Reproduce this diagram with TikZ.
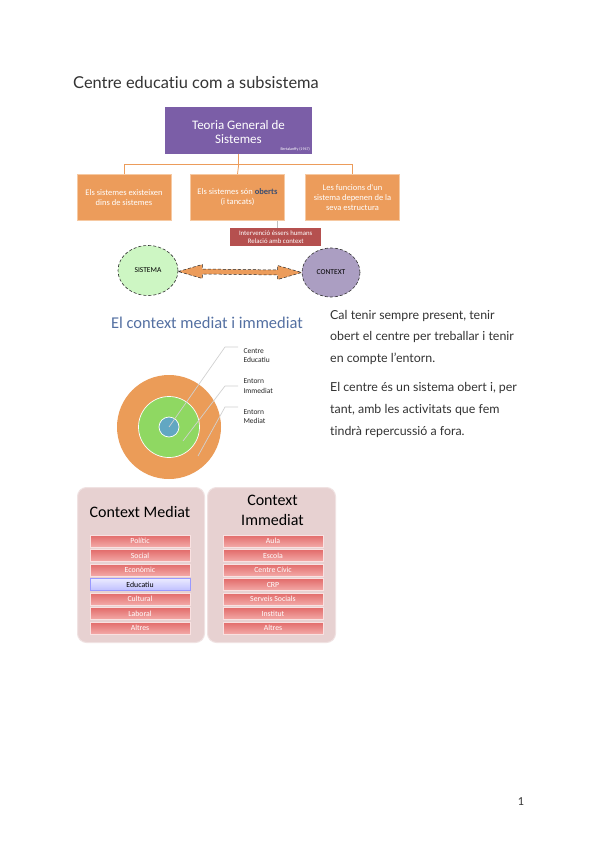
\documentclass[tikz,border=0pt]{standalone}
\usepackage{fontspec}
\setmainfont{Lato}[Ligatures={NoCommon}]
\newfontfamily\carl{Carlito}
\usetikzlibrary{calc,shapes.geometric}
\definecolor{purp}{HTML}{7B5EA7}
\definecolor{orng}{HTML}{EC9C5B}
\definecolor{orngl}{HTML}{F6C9A2}
\definecolor{redb}{HTML}{B5504F}
\definecolor{sgreen}{HTML}{CDF6C3}
\definecolor{cpurp}{HTML}{AB9EC2}
\definecolor{ttlblue}{HTML}{5470A2}
\definecolor{corange}{HTML}{EB9C58}
\definecolor{cgreen}{HTML}{8FD862}
\definecolor{cblue}{HTML}{62A7C2}
\definecolor{panel}{HTML}{E7D1D1}
\definecolor{panelb}{HTML}{F0E2E2}
\definecolor{barT}{HTML}{E26B6A}
\definecolor{barB}{HTML}{F3AAA8}
\definecolor{txt}{HTML}{333333}
\tikzset{
  obox/.style={draw=orngl,line width=0.8pt,fill=orng,minimum width=94pt,minimum height=46pt,inner sep=1pt,align=center,text=white,font=\carl\fontsize{8.5}{10}\selectfont},
  ell/.style={ellipse,draw=black!80,densely dashed,line width=0.6pt,font=\carl\fontsize{7.5}{9}\selectfont,inner sep=0pt},
  lead/.style={draw=black!18,line width=0.7pt},
  clab/.style={anchor=west,align=left,font=\carl\fontsize{7.5}{9.5}\selectfont,text=black!85},
  pnl/.style={draw=panelb,line width=1pt,fill=panel,rounded corners=9pt,minimum width=127pt,minimum height=155pt,anchor=north west},
  bar/.style={draw=white!80!barT,line width=0.4pt,top color=barT,bottom color=barB,minimum width=100pt,minimum height=12pt,inner sep=0pt,text=white,font=\carl\fontsize{7.8}{9}\selectfont},
  bluebar/.style={bar,draw=blue!40,top color=blue!8,bottom color=blue!25,text=black},
  para/.style={anchor=north west,align=left,text=txt,font=\fontsize{12.4}{21.6}\selectfont,inner sep=0pt}
}
\begin{document}
\begin{tikzpicture}[x=1pt,y=-1pt]
\useasboundingbox[fill=white] (0,0) rectangle (600,848);
% title
\node[anchor=base west,inner sep=0pt,text=txt,font=\fontsize{16.4}{18}\selectfont] (title) at (73,89) {Centre educatiu com a subsistema};
% purple box
\node[fill=purp,minimum width=147pt,minimum height=47pt,anchor=north west,inner sep=0pt] (tgs) at (165,107) {};
\node[text=white,align=center,font=\carl\fontsize{13}{14}\selectfont] (tgst) at (238.5,132) {Teoria General de\\Sistemes};
\node[text=white,anchor=east,inner sep=0pt,font=\carl\fontsize{4}{5}\selectfont] (bert) at (310,149) {Bertalanffy (1947)};
% orange boxes
\node[obox] (b1) at (124,197.5) {Els sistemes existeixen\\dins de sistemes};
\node[obox] (b2) at (237.5,197.5) {Els sistemes són \textcolor{ttlblue!70!black}{\bfseries oberts}\\(i tancats)};
\node[obox] (b3) at (352.5,197.5) {Les funcions d'un\\sistema depenen de la\\seva estructura};
\draw[orng,line width=0.8pt] (tgs.south) -- ++(0,10) coordinate (j);
\draw[orng,line width=0.8pt] (b1.north) |- (j) -| (b3.north);
\draw[orng,line width=0.8pt] (j) -- (b2.north);
% red box
\node[fill=redb,minimum width=91pt,minimum height=18pt,inner sep=0pt,align=center,text=white,font=\carl\fontsize{6.8}{8}\selectfont,anchor=north west] (rb) at (230,228) {Intervenció éssers humans\\Relació amb context};
\draw[black!25,line width=0.6pt] (277,221) -- (277,228);
% ellipses
\node[ell,fill=sgreen,minimum width=60pt,minimum height=50pt] (sis) at (148,270.5) {SISTEMA};
\node[ell,fill=cpurp,minimum width=58pt,minimum height=49pt] (ctx) at (331,272.5) {CONTEXT};
\coordinate (a1) at ($(sis.east)+(0,1)$);
\coordinate (a2) at (ctx.west);
\filldraw[fill=orng,draw=black!85,densely dashed,line width=0.5pt]
  (a1) -- ++(24pt,7pt) -- ++(0,-4.5pt) -- ($(a2)+(-24pt,2.5pt)$) -- ++(0,4.5pt) -- (a2)
  -- ++(-24pt,-7pt) -- ++(0,4.5pt) -- ($(a1)+(24pt,-2.5pt)$) -- ++(0,-4.5pt) -- cycle;
% context mediat i immediat
\node[text=ttlblue,font=\carl\fontsize{16.5}{18}\selectfont] (cmi) at (207,323) {El context mediat i immediat};
\fill[corange] (169,427) circle (52);
\filldraw[fill=cgreen,draw=white,line width=0.7pt] (169,427) circle (30.5);
\filldraw[fill=cblue,draw=white,line width=0.7pt] (169,427) circle (10);
\coordinate (l1) at (169,427);
\coordinate (l2) at (183,441);
\coordinate (l3) at (198,456);
\node[clab] (ce) at (240,355.5) {Centre\\Educatiu};
\node[clab] (ei) at (240,386) {Entorn\\Immediat};
\node[clab] (em) at (240,416.5) {Entorn\\Mediat};
\draw[lead] (l1) -- (225,347) -- (238,347);
\draw[lead] (l2) -- (225,386) -- (238,386);
\draw[lead] (l3) -- (225,407) -- (238,407);
% paragraphs
\node[para] (p1) at (330,310) {Cal tenir sempre present, tenir\\obert el centre per treballar i tenir\\en compte l'entorn.};
\node[para] (p2) at (330,382.5) {El centre és un sistema obert i, per\\tant, amb les activitats que fem\\tindrà repercussió a fora.};
% panels
\node[pnl] (pm) at (77,487) {};
\node[font=\carl\fontsize{16}{18}\selectfont,text=black] (pmt) at (140,512) {Context Mediat};
\node[bar] (m1) at (140,541) {Polític};
\node[bar] (m2) at (140,555.5) {Social};
\node[bar] (m3) at (140,570) {Econòmic};
\node[bluebar] (m4) at (140,584.5) {Educatiu};
\node[bar] (m5) at (140,599) {Cultural};
\node[bar] (m6) at (140,613.5) {Laboral};
\node[bar] (m7) at (140,628) {Altres};
\node[pnl,minimum width=128pt] (pi) at (207,487) {};
\node[font=\carl\fontsize{16}{20}\selectfont,text=black,align=center] (pit) at (272.5,510) {Context\\Immediat};
\node[bar] (i1) at (273,541) {Aula};
\node[bar] (i2) at (273,555.5) {Escola};
\node[bar] (i3) at (273,570) {Centre Cívic};
\node[bar] (i4) at (273,584.5) {CRP};
\node[bar] (i5) at (273,599) {Serveis Socials};
\node[bar] (i6) at (273,613.5) {Institut};
\node[bar] (i7) at (273,628) {Altres};
% page number
\node[text=txt,font=\fontsize{11}{12}\selectfont] (pg) at (521,802) {1};
\end{tikzpicture}
\end{document}
